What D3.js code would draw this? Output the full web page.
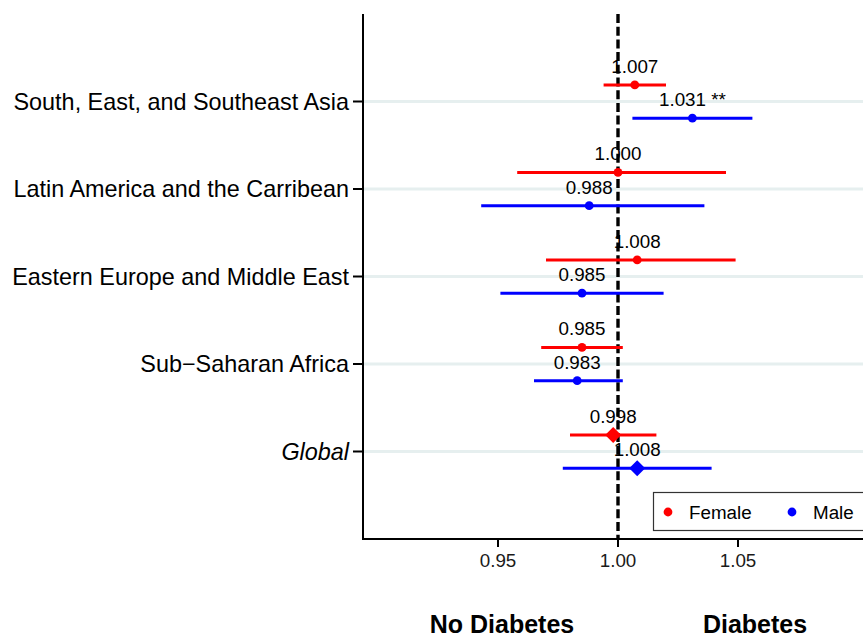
<!DOCTYPE html>
<html><head><meta charset="utf-8">
<script src="https://cdn.jsdelivr.net/npm/d3@7/dist/d3.min.js"></script>
<style>body{margin:0;background:#fff}svg{display:block;font-family:"Liberation Sans",Arial,sans-serif}</style>
</head><body>
<svg id="c" width="863" height="637"></svg>
<script>
const regions = ["South, East, and Southeast Asia","Latin America and the Carribean","Eastern Europe and Middle East","Sub\u2212Saharan Africa","Global"];
const femaleEst = [1.007, 1.000, 1.008, 0.985, 0.998];
const femaleLo  = [0.994, 0.958, 0.970, 0.968, 0.980];
const femaleHi  = [1.020, 1.045, 1.049, 1.002, 1.016];
const femaleSig = ["", "", "", "", ""];
const maleEst = [1.031, 0.988, 0.985, 0.983, 1.008];
const maleLo  = [1.006, 0.943, 0.951, 0.965, 0.977];
const maleHi  = [1.056, 1.036, 1.019, 1.002, 1.039];
const maleSig = ["**", "", "", "", ""];
const xTicks = [0.95, 1.00, 1.05];
const sexes = ["Female", "Male"];
const colors = ["#ff0000", "#0000ff"];

const svg = d3.select("#c");
const L = 363, R = 863, T = 14, B = 539;
const x = d3.scaleLinear().domain([0.89375, 0.89375 + (R - L) / 2400]).range([L, R]);
const y = d3.scalePoint().domain(regions).range([T, B]).padding(1);
const step = y.step();
const offs = [-0.19, 0.19];

// grid lines
svg.append("g").selectAll("line").data(regions).join("line")
  .attr("x1", L).attr("x2", R).attr("y1", d => y(d)).attr("y2", d => y(d))
  .attr("stroke", "#e6efef").attr("stroke-width", 2.8);

// reference line
svg.append("line").attr("x1", x(1)).attr("x2", x(1)).attr("y1", T).attr("y2", B)
  .attr("stroke", "#000").attr("stroke-width", 3.4).attr("stroke-dasharray", "9,3.7");

const series = [
  {est: femaleEst, lo: femaleLo, hi: femaleHi, sig: femaleSig},
  {est: maleEst, lo: maleLo, hi: maleHi, sig: maleSig}
];
series.forEach((s, si) => {
  const rows = regions.map((r, i) => ({r, i, est: s.est[i], lo: s.lo[i], hi: s.hi[i], sig: s.sig[i], yy: y(r) + offs[si] * step}));
  const g = svg.append("g");
  g.selectAll("line").data(rows).join("line")
    .attr("x1", d => x(d.lo)).attr("x2", d => x(d.hi)).attr("y1", d => d.yy).attr("y2", d => d.yy)
    .attr("stroke", colors[si]).attr("stroke-width", 3);
  g.selectAll("path.pt").data(rows).join("path").attr("class", "pt")
    .attr("transform", d => `translate(${x(d.est)},${d.yy})`)
    .attr("d", d => d.r === "Global" ? "M0,-8L8,0L0,8L-8,0Z" : d3.symbol(d3.symbolCircle, Math.PI * 4.4 * 4.4)())
    .attr("fill", colors[si]);
  g.selectAll("text").data(rows).join("text")
    .attr("x", d => x(d.est)).attr("y", d => d.yy - 12)
    .attr("text-anchor", "middle").attr("font-size", 18.8).attr("fill", "#000")
    .text(d => d3.format(".3f")(d.est) + (d.sig ? " " + d.sig : ""));
});

// axes
const ax = svg.append("g").attr("stroke", "#000").attr("stroke-width", 2);
ax.append("line").attr("x1", L).attr("x2", L).attr("y1", T).attr("y2", B + 1);
ax.append("line").attr("x1", L - 1).attr("x2", R).attr("y1", B).attr("y2", B);
ax.selectAll("line.yt").data(regions).join("line").attr("class", "yt")
  .attr("x1", L - 10).attr("x2", L).attr("y1", d => y(d)).attr("y2", d => y(d));
ax.selectAll("line.xt").data(xTicks).join("line").attr("class", "xt")
  .attr("x1", d => x(d)).attr("x2", d => x(d)).attr("y1", B).attr("y2", B + 8);

svg.append("g").selectAll("text").data(regions).join("text")
  .attr("x", L - 14).attr("y", d => y(d) + 8)
  .attr("text-anchor", "end").attr("font-size", 23.4)
  .attr("font-style", d => d === "Global" ? "italic" : "normal")
  .text(d => d);

svg.append("g").selectAll("text").data(xTicks).join("text")
  .attr("x", d => x(d)).attr("y", 567)
  .attr("text-anchor", "middle").attr("font-size", 18.8).attr("fill", "#1a1a1a")
  .text(d => d3.format(".2f")(d));

svg.append("text").attr("x", 502).attr("y", 633).attr("text-anchor", "middle")
  .attr("font-size", 25).attr("font-weight", "bold").text("No Diabetes");
svg.append("text").attr("x", 755).attr("y", 633).attr("text-anchor", "middle")
  .attr("font-size", 25).attr("font-weight", "bold").text("Diabetes");

// legend
const lg = svg.append("g");
lg.append("rect").attr("x", 653.5).attr("y", 492.5).attr("width", 215).attr("height", 38)
  .attr("fill", "#fff").attr("stroke", "#333").attr("stroke-width", 1.2);
const lx = [668, 792];
sexes.forEach((s, i) => {
  lg.append("circle").attr("cx", lx[i]).attr("cy", 512).attr("r", 4.4).attr("fill", colors[i]);
  lg.append("text").attr("x", lx[i] + 21).attr("y", 518.5).attr("font-size", 18.8).text(s);
});
</script>
</body></html>
